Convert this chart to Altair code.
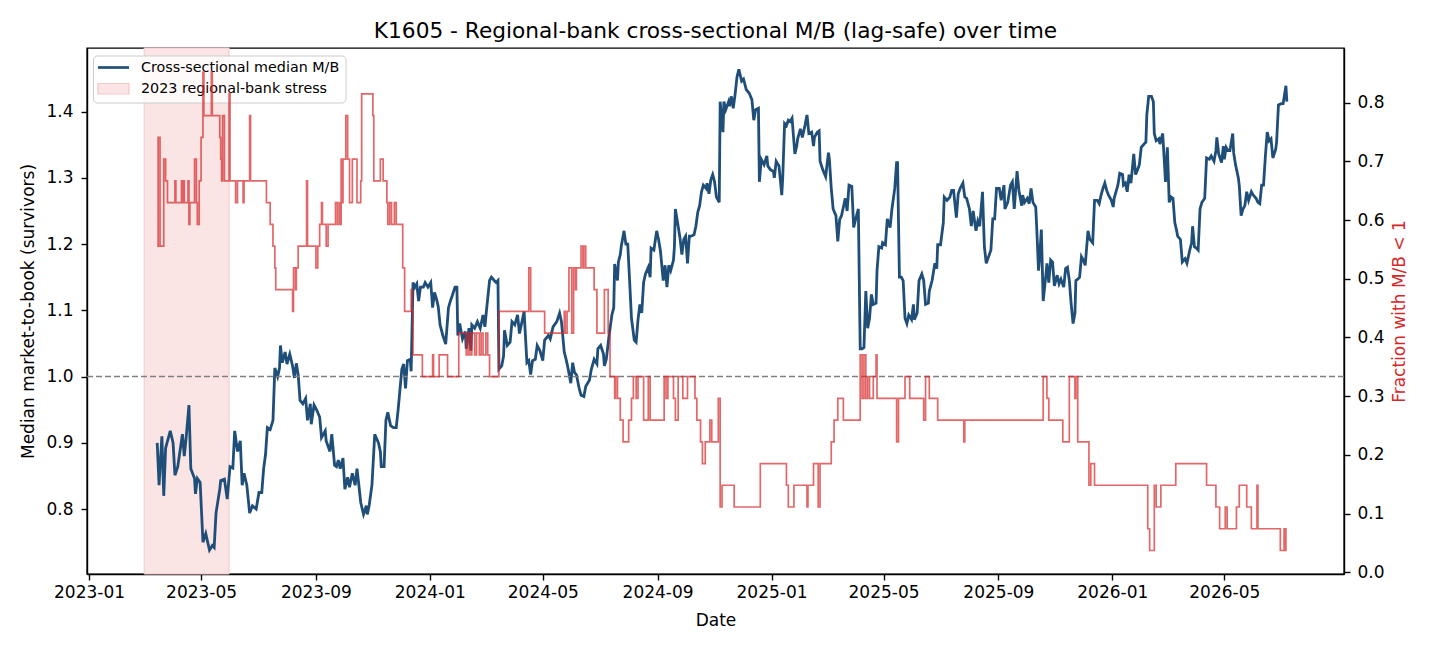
import altair as alt
import pandas as pd

TITLE = "K1605 - Regional-bank cross-sectional M/B (lag-safe) over time"
SERIES_MB = "Cross-sectional median M/B"
SERIES_STRESS = "2023 regional-bank stress"
STRESS_START = "2023-03-01"
STRESS_END = "2023-05-31"
BASE_DATE = "2023-01-01"
X_TICKS = ["2023-01", "2023-05", "2023-09", "2024-01", "2024-05", "2024-09",
           "2025-01", "2025-05", "2025-09", "2026-01", "2026-05"]
LEFT_TICKS = [0.8, 0.9, 1.0, 1.1, 1.2, 1.3, 1.4]
RIGHT_TICKS = [0.0, 0.1, 0.2, 0.3, 0.4, 0.5, 0.6, 0.7, 0.8]
REF_LEVEL = 1.0
N_BANKS = 27

# median M/B: day offset from BASE_DATE, value
MB_DAY = [73, 75, 78, 80, 82, 87, 90, 92, 95, 100, 102, 104, 107, 109, 113, 114, 116, 119, 122, 125,
          129, 132, 134, 136, 140, 141, 145, 148, 151, 154, 156, 159, 162, 164, 166, 169, 172, 175, 179, 182,
          185, 187, 189, 191, 194, 197, 199, 202, 204, 205, 207, 210, 212, 215, 218, 220, 222, 224, 226, 229,
          232, 234, 237, 238, 241, 244, 247, 249, 253, 254, 258, 260, 263, 265, 267, 269, 272, 274, 277, 279,
          282, 285, 287, 289, 291, 294, 297, 298, 300, 303, 306, 310, 312, 313, 316, 318, 320, 323, 326, 329,
          331, 333, 335, 337, 339, 341, 344, 345, 347, 349, 351, 353, 355, 358, 360, 363, 366, 368, 370, 372,
          374, 376, 379, 382, 385, 387, 389, 392, 394, 395, 397, 400, 403, 404, 407, 409, 410, 413, 416, 419,
          422, 424, 426, 429, 431, 434, 436, 438, 439, 442, 444, 445, 448, 451, 453, 456, 459, 461, 463, 466,
          469, 471, 473, 475, 478, 480, 483, 486, 488, 492, 494, 497, 501, 504, 506, 509, 511, 513, 516, 518,
          520, 522, 525, 527, 530, 532, 536, 538, 541, 544, 545, 548, 551, 552, 554, 557, 560, 562, 563, 566,
          567, 569, 570, 573, 575, 577, 579, 581, 584, 586, 588, 590, 592, 594, 596, 599, 601, 602, 605, 608,
          610, 612, 615, 617, 619, 621, 623, 626, 627, 628, 631, 633, 635, 637, 639, 641, 643, 645, 648, 650,
          652, 654, 656, 658, 661, 662, 664, 666, 668, 670, 672, 675, 676, 679, 680, 682, 685, 686, 688, 690,
          692, 694, 696, 699, 701, 704, 707, 710, 712, 714, 717, 718, 720, 723, 726, 727, 730, 733, 734, 736,
          739, 742, 743, 745, 747, 749, 751, 753, 756, 758, 759, 762, 764, 767, 769, 771, 774, 776, 777, 780,
          782, 783, 786, 789, 792, 793, 795, 797, 800, 802, 804, 806, 808, 810, 812, 814, 817, 819, 821, 824,
          826, 828, 830, 832, 834, 836, 838, 840, 843, 844, 846, 849, 850, 853, 855, 858, 860, 863, 865, 866,
          868, 870, 872, 874, 876, 878, 881, 883, 884, 887, 889, 892, 894, 896, 899, 900, 903, 906, 908, 909,
          912, 915, 916, 919, 922, 924, 926, 929, 931, 933, 936, 938, 940, 943, 945, 947, 950, 952, 954, 957,
          959, 961, 964, 966, 968, 970, 972, 975, 977, 980, 981, 984, 987, 989, 991, 994, 996, 999, 1000, 1002,
          1005, 1007, 1009, 1011, 1014, 1015, 1017, 1018, 1020, 1022, 1025, 1026, 1028, 1030, 1032, 1034, 1037, 1039, 1041, 1044,
          1046, 1048, 1050, 1052, 1054, 1056, 1057, 1059, 1061, 1063, 1065, 1067, 1070, 1072, 1075, 1077, 1080, 1082, 1084, 1086,
          1088, 1090, 1092, 1095, 1097, 1098, 1102, 1104, 1107, 1108, 1110, 1112, 1114, 1116, 1119, 1121, 1123, 1125, 1127, 1130,
          1132, 1133, 1135, 1138, 1140, 1141, 1143, 1146, 1147, 1150, 1151, 1153, 1155, 1157, 1159, 1161, 1163, 1165, 1166, 1169,
          1171, 1174, 1176, 1179, 1181, 1182, 1184, 1186, 1188, 1190, 1192, 1195, 1197, 1200, 1202, 1205, 1207, 1208, 1210, 1213,
          1215, 1216, 1218, 1220, 1222, 1225, 1226, 1228, 1231, 1232, 1234, 1236, 1238, 1240, 1242, 1245, 1247, 1250, 1252, 1254,
          1256, 1258, 1260, 1262, 1264, 1266, 1268, 1271, 1272, 1274, 1277, 1279, 1282, 1283]
MB_VALUE = [0.900, 0.836, 0.910, 0.820, 0.892, 0.918, 0.900, 0.851, 0.864, 0.913, 0.880, 0.908, 0.957, 0.861, 0.846, 0.823, 0.846, 0.840, 0.750, 0.763,
            0.738, 0.745, 0.742, 0.794, 0.830, 0.843, 0.845, 0.815, 0.864, 0.862, 0.918, 0.887, 0.903, 0.836, 0.854, 0.836, 0.794, 0.805, 0.800, 0.825,
            0.825, 0.861, 0.882, 0.923, 0.920, 0.934, 1.013, 1.000, 1.013, 1.047, 1.021, 1.037, 1.019, 1.034, 1.016, 0.998, 1.020, 1.003, 0.964, 0.959,
            0.967, 0.934, 0.959, 0.928, 0.957, 0.949, 0.939, 0.908, 0.918, 0.903, 0.887, 0.913, 0.866, 0.864, 0.874, 0.861, 0.877, 0.830, 0.848, 0.833,
            0.854, 0.836, 0.861, 0.836, 0.810, 0.792, 0.805, 0.792, 0.805, 0.836, 0.913, 0.900, 0.887, 0.864, 0.864, 0.934, 0.946, 0.926, 0.923, 0.923,
            0.949, 0.980, 1.011, 1.019, 0.982, 1.024, 1.026, 1.008, 1.142, 1.135, 1.140, 1.114, 1.135, 1.135, 1.142, 1.135, 1.142, 1.104, 1.127, 1.118,
            1.106, 1.078, 1.062, 1.049, 1.104, 1.114, 1.122, 1.135, 1.135, 1.062, 1.080, 1.057, 1.068, 1.042, 1.073, 1.039, 1.078, 1.073, 1.083, 1.073,
            1.093, 1.075, 1.104, 1.145, 1.150, 1.145, 1.142, 1.145, 1.011, 1.016, 1.031, 1.070, 1.047, 1.052, 1.083, 1.078, 1.093, 1.065, 1.078, 1.098,
            1.021, 1.024, 1.003, 1.024, 1.026, 1.047, 1.039, 1.024, 1.055, 1.062, 1.057, 1.075, 1.083, 1.096, 1.083, 1.037, 1.026, 1.013, 0.990, 1.021,
            1.006, 1.003, 0.982, 0.972, 0.970, 0.985, 0.995, 1.011, 1.026, 1.019, 1.042, 1.047, 1.034, 1.016, 1.026, 1.062, 1.093, 1.104, 1.170, 1.145,
            1.173, 1.184, 1.196, 1.220, 1.200, 1.200, 1.145, 1.088, 1.055, 1.052, 1.086, 1.109, 1.096, 1.142, 1.155, 1.165, 1.150, 1.194, 1.191, 1.220,
            1.207, 1.190, 1.145, 1.168, 1.135, 1.168, 1.160, 1.176, 1.196, 1.253, 1.227, 1.209, 1.184, 1.207, 1.212, 1.171, 1.212, 1.212, 1.214, 1.227,
            1.248, 1.258, 1.279, 1.289, 1.284, 1.292, 1.276, 1.297, 1.305, 1.294, 1.271, 1.263, 1.415, 1.369, 1.415, 1.403, 1.415, 1.408, 1.423, 1.405,
            1.426, 1.452, 1.464, 1.446, 1.449, 1.433, 1.428, 1.418, 1.387, 1.403, 1.405, 1.294, 1.328, 1.320, 1.333, 1.318, 1.312, 1.310, 1.300, 1.325,
            1.318, 1.274, 1.300, 1.382, 1.379, 1.387, 1.385, 1.390, 1.336, 1.348, 1.359, 1.374, 1.361, 1.380, 1.395, 1.367, 1.369, 1.348, 1.361, 1.369,
            1.371, 1.325, 1.312, 1.302, 1.338, 1.328, 1.284, 1.253, 1.243, 1.204, 1.237, 1.243, 1.256, 1.269, 1.250, 1.289, 1.287, 1.225, 1.237, 1.253,
            1.042, 1.042, 1.044, 1.129, 1.073, 1.088, 1.124, 1.109, 1.111, 1.160, 1.196, 1.194, 1.202, 1.199, 1.238, 1.225, 1.253, 1.284, 1.323, 1.323,
            1.150, 1.150, 1.145, 1.088, 1.080, 1.093, 1.086, 1.109, 1.086, 1.096, 1.145, 1.155, 1.145, 1.109, 1.111, 1.129, 1.145, 1.171, 1.163, 1.199,
            1.199, 1.232, 1.271, 1.266, 1.271, 1.281, 1.281, 1.240, 1.276, 1.284, 1.292, 1.271, 1.269, 1.253, 1.227, 1.250, 1.220, 1.235, 1.227, 1.279,
            1.196, 1.171, 1.183, 1.191, 1.238, 1.238, 1.284, 1.284, 1.266, 1.289, 1.253, 1.263, 1.289, 1.294, 1.253, 1.310, 1.281, 1.258, 1.274, 1.263,
            1.269, 1.261, 1.284, 1.263, 1.256, 1.227, 1.160, 1.176, 1.222, 1.114, 1.155, 1.171, 1.142, 1.176, 1.173, 1.137, 1.153, 1.140, 1.147, 1.135,
            1.163, 1.165, 1.145, 1.109, 1.080, 1.096, 1.145, 1.147, 1.150, 1.181, 1.176, 1.168, 1.220, 1.207, 1.202, 1.266, 1.266, 1.261, 1.274, 1.284,
            1.292, 1.281, 1.274, 1.266, 1.256, 1.269, 1.289, 1.307, 1.305, 1.289, 1.292, 1.279, 1.305, 1.292, 1.336, 1.305, 1.312, 1.320, 1.346, 1.351,
            1.354, 1.395, 1.423, 1.423, 1.415, 1.367, 1.356, 1.359, 1.351, 1.367, 1.343, 1.294, 1.346, 1.263, 1.271, 1.269, 1.232, 1.220, 1.212, 1.207,
            1.173, 1.178, 1.171, 1.191, 1.202, 1.227, 1.196, 1.194, 1.191, 1.253, 1.263, 1.269, 1.330, 1.328, 1.333, 1.325, 1.341, 1.361, 1.336, 1.323,
            1.348, 1.328, 1.346, 1.341, 1.341, 1.367, 1.338, 1.320, 1.300, 1.289, 1.243, 1.253, 1.258, 1.279, 1.266, 1.279, 1.274, 1.269, 1.263, 1.261,
            1.289, 1.289, 1.333, 1.369, 1.356, 1.359, 1.330, 1.343, 1.354, 1.410, 1.412, 1.412, 1.439, 1.415]

# number of banks (out of N_BANKS) with M/B < 1; each value holds from its day until the next
FRAC_DAY = [73, 74, 76, 80, 82, 84, 92, 93, 99, 100, 101, 102, 106, 107, 108, 113, 115, 116, 118, 120,
            122, 123, 131, 132, 140, 141, 142, 143, 145, 150, 151, 157, 159, 165, 166, 172, 173, 190, 194, 197,
            199, 200, 218, 219, 221, 222, 224, 233, 234, 243, 245, 247, 249, 250, 254, 256, 264, 266, 268, 269,
            270, 271, 272, 275, 277, 279, 282, 287, 291, 292, 304, 305, 312, 315, 319, 320, 322, 324, 327, 329,
            336, 338, 345, 346, 347, 357, 368, 369, 375, 384, 396, 404, 406, 408, 410, 413, 415, 418, 420, 422,
            425, 427, 429, 439, 471, 473, 488, 509, 510, 512, 514, 517, 519, 521, 522, 527, 529, 530, 532, 541,
            544, 552, 556, 558, 563, 564, 566, 569, 572, 578, 581, 583, 586, 588, 594, 599, 601, 616, 618, 620,
            626, 628, 631, 636, 641, 649, 651, 655, 657, 660, 665, 667, 674, 676, 678, 691, 719, 747, 749, 755,
            769, 770, 776, 781, 783, 795, 798, 802, 808, 826, 828, 830, 832, 834, 836, 840, 843, 844, 865, 867,
            874, 879, 894, 896, 900, 909, 937, 938, 1022, 1026, 1028, 1043, 1050, 1056, 1057, 1059, 1071, 1073, 1077, 1134,
            1136, 1141, 1143, 1148, 1164, 1197, 1207, 1211, 1217, 1219, 1229, 1232, 1240, 1245, 1251, 1252, 1276, 1280, 1281, 1282,
            1283]
FRAC_COUNT = [15, 20, 15, 19, 18, 17, 18, 17, 18, 17, 18, 17, 18, 16, 17, 19, 17, 16, 18, 20,
              23, 21, 23, 21, 20, 19, 18, 21, 18, 22, 18, 17, 18, 17, 18, 21, 18, 17, 16, 15,
              14, 13, 12, 14, 13, 14, 15, 18, 15, 14, 15, 16, 17, 16, 15, 16, 17, 16, 17, 16,
              19, 17, 19, 21, 19, 17, 19, 17, 18, 22, 21, 18, 19, 18, 17, 16, 17, 16, 17, 16,
              14, 12, 13, 12, 10, 9, 10, 9, 10, 9, 11, 10, 11, 10, 11, 10, 11, 10, 11, 10,
              11, 10, 9, 12, 14, 12, 11, 12, 11, 12, 14, 11, 14, 13, 14, 15, 14, 15, 14, 13,
              11, 13, 11, 9, 8, 9, 8, 7, 6, 7, 8, 9, 8, 9, 7, 9, 7, 9, 8, 9,
              8, 7, 9, 8, 9, 8, 7, 6, 5, 6, 7, 6, 8, 3, 4, 3, 5, 4, 3, 4,
              3, 4, 5, 3, 5, 6, 7, 8, 7, 10, 8, 10, 8, 9, 8, 9, 10, 8, 6, 8,
              9, 8, 7, 9, 8, 7, 6, 7, 9, 8, 7, 6, 9, 8, 9, 6, 4, 5, 4, 2,
              1, 4, 3, 4, 5, 4, 3, 2, 3, 2, 3, 4, 3, 2, 4, 2, 1, 2, 1, 2,
              2]

BLUE = "#1f4e79"
RED = "#d62728"
SPAN_FILL = "#fae4e4"
SPAN_EDGE = "#f3c9c9"
FONT = "DejaVu Sans"

base = pd.Timestamp(BASE_DATE)
mb_df = pd.DataFrame({
    "date": base + pd.to_timedelta(MB_DAY, unit="D"),
    "mb": MB_VALUE,
})
frac_df = pd.DataFrame({
    "date": base + pd.to_timedelta(FRAC_DAY, unit="D"),
    "frac": [c / N_BANKS for c in FRAC_COUNT],
})
span_df = pd.DataFrame({
    "start": [pd.Timestamp(STRESS_START)],
    "end": [pd.Timestamp(STRESS_END)],
})
ref_df = pd.DataFrame({"level": [REF_LEVEL]})
one = pd.DataFrame({"k": [0]})

x_scale = alt.Scale(domain=[
    alt.DateTime(year=2022, month=12, date=29, hours=19, minutes=12),
    alt.DateTime(year=2026, month=9, date=6, hours=4, minutes=48),
])
x_axis = alt.Axis(
    title="Date",
    values=[alt.DateTime(year=int(t[:4]), month=int(t[5:]), date=1) for t in X_TICKS],
    format="%Y-%m", labelPadding=4, titlePadding=12, labelFlush=False, labelOverlap=False,
)
left_scale = alt.Scale(domain=[0.702, 1.496], nice=False, zero=False)
left_axis = alt.Axis(title="Median market-to-book (survivors)", values=LEFT_TICKS, format=".1f",
                     labelPadding=8, titlePadding=8)
right_scale = alt.Scale(domain=[-0.003, 0.893], nice=False, zero=False)
right_axis = alt.Axis(title="Fraction with M/B < 1", values=RIGHT_TICKS, format=".1f", orient="right",
                      titleColor=RED, titleAngle=270, labelPadding=7, titlePadding=24)

span = alt.Chart(span_df).mark_rect(fill=SPAN_FILL, stroke=SPAN_EDGE, strokeWidth=1).encode(
    x=alt.X("start:T", scale=x_scale, axis=x_axis),
    x2="end:T",
)
mb_line = alt.Chart(mb_df).mark_line(strokeWidth=2.8, color=BLUE).encode(
    x=alt.X("date:T", scale=x_scale, axis=x_axis),
    y=alt.Y("mb:Q", scale=left_scale, axis=left_axis),
)
ref_rule = alt.Chart(ref_df).mark_rule(color="#808080", strokeWidth=1.5, strokeDash=[6, 3]).encode(
    y=alt.Y("level:Q", scale=left_scale, axis=left_axis),
)

# legend (drawn inside the plot, top-left, like the reference)
leg_box = alt.Chart(one).mark_rect(fill="white", fillOpacity=0.8, stroke="#cccccc", strokeWidth=1,
                                   cornerRadius=4).encode(
    x=alt.value(6.5), x2=alt.value(259), y=alt.value(8), y2=alt.value(55))
leg_line = alt.Chart(one).mark_rule(color=BLUE, strokeWidth=2.7).encode(
    x=alt.value(11), x2=alt.value(42), y=alt.value(19.5))
leg_patch = alt.Chart(one).mark_rect(fill=SPAN_FILL, stroke=SPAN_EDGE, strokeWidth=1.2).encode(
    x=alt.value(11), x2=alt.value(42), y=alt.value(35.5), y2=alt.value(46))
leg_text1 = alt.Chart(one).mark_text(
    align="left", baseline="middle", font=FONT, fontSize=14.3, color="black").encode(
    x=alt.value(54), y=alt.value(19.5), text=alt.value(SERIES_MB))
leg_text2 = alt.Chart(one).mark_text(
    align="left", baseline="middle", font=FONT, fontSize=14.3, color="black").encode(
    x=alt.value(54), y=alt.value(41), text=alt.value(SERIES_STRESS))

left = alt.layer(span, mb_line, ref_rule, leg_box, leg_line, leg_patch, leg_text1, leg_text2)

frac_line = alt.Chart(frac_df).mark_line(interpolate="step-after", color=RED, strokeWidth=1.7, opacity=0.7).encode(
    x=alt.X("date:T", scale=x_scale, axis=x_axis),
    y=alt.Y("frac:Q", scale=right_scale, axis=right_axis),
)

chart = alt.layer(left, frac_line).resolve_scale(y="independent").properties(
    width=1257, height=526,
    padding={"left": 87, "top": 48, "right": 86, "bottom": 76},
    autosize=alt.AutoSizeParams(type="none"),
    title=alt.TitleParams(TITLE, fontSize=21.7, fontWeight="normal", font=FONT, color="black",
                          anchor="middle", offset=5),
).configure(font=FONT).configure_view(stroke="black", strokeWidth=1.4).configure_axis(
    grid=False, domainColor="black", domainWidth=1.4, tickColor="black", tickWidth=1.4, tickSize=6,
    labelFontSize=17, titleFontSize=17, labelColor="black", titleColor="black",
    titleFontWeight="normal", labelFont=FONT, titleFont=FONT,
)

chart.save("out.html", embed_options={"renderer": "svg", "actions": False})
